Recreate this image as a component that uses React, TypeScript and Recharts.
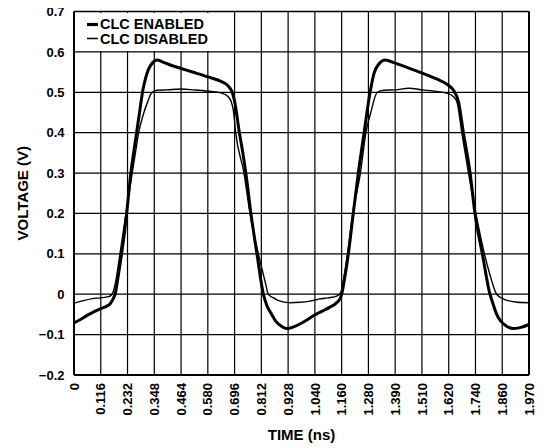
import React from 'react';
import { LineChart, Line, XAxis, YAxis, CartesianGrid, Legend, ReferenceLine } from 'recharts';

const FONT = '"Liberation Sans", Arial, Helvetica, sans-serif';

const X_MAX = 1.97;
const xTickLabels = ['0', '0.116', '0.232', '0.348', '0.464', '0.580', '0.696', '0.812', '0.928', '1.040', '1.160', '1.280', '1.390', '1.510', '1.620', '1.740', '1.860', '1.970'];
const yTicks = [-0.2, -0.1, 0, 0.1, 0.2, 0.3, 0.4, 0.5, 0.6, 0.7];

// CLC ENABLED (thick trace)
const enabledTime = [0, 0.03, 0.055, 0.085, 0.113, 0.14, 0.156, 0.17, 0.178, 0.19, 0.206, 0.218, 0.228, 0.246, 0.258, 0.271, 0.285, 0.298, 0.31, 0.322, 0.336, 0.35, 0.36, 0.38, 0.42, 0.464, 0.52, 0.58, 0.64, 0.67, 0.685, 0.696, 0.716, 0.731, 0.744, 0.766, 0.792, 0.82, 0.835, 0.856, 0.875, 0.9, 0.921, 0.95, 0.98, 1.01, 1.04, 1.075, 1.108, 1.135, 1.152, 1.159, 1.172, 1.188, 1.209, 1.231, 1.256, 1.282, 1.299, 1.32, 1.347, 1.39, 1.45, 1.51, 1.57, 1.62, 1.643, 1.665, 1.686, 1.715, 1.736, 1.768, 1.801, 1.815, 1.83, 1.85, 1.875, 1.9, 1.935, 1.97];
const enabledVolt = [-0.071, -0.062, -0.053, -0.044, -0.036, -0.03, -0.024, -0.011, 0, 0.04, 0.1, 0.15, 0.2, 0.3, 0.35, 0.4, 0.455, 0.505, 0.535, 0.556, 0.57, 0.578, 0.58, 0.576, 0.567, 0.559, 0.549, 0.538, 0.526, 0.514, 0.5, 0.476, 0.4, 0.35, 0.3, 0.2, 0.1, 0, -0.028, -0.05, -0.068, -0.08, -0.085, -0.081, -0.073, -0.063, -0.052, -0.042, -0.032, -0.022, -0.011, 0, 0.04, 0.1, 0.2, 0.3, 0.4, 0.5, 0.547, 0.57, 0.58, 0.572, 0.56, 0.547, 0.533, 0.518, 0.505, 0.476, 0.4, 0.3, 0.2, 0.1, 0, -0.025, -0.05, -0.068, -0.08, -0.085, -0.082, -0.075];

// CLC DISABLED (thin trace)
const disabledTime = [0, 0.04, 0.08, 0.113, 0.15, 0.165, 0.18, 0.199, 0.225, 0.252, 0.266, 0.28, 0.3, 0.318, 0.336, 0.358, 0.4, 0.464, 0.52, 0.58, 0.64, 0.665, 0.68, 0.69, 0.7, 0.736, 0.762, 0.798, 0.815, 0.828, 0.841, 0.86, 0.883, 0.935, 0.98, 1.022, 1.06, 1.1, 1.14, 1.155, 1.165, 1.184, 1.207, 1.24, 1.264, 1.285, 1.313, 1.34, 1.39, 1.45, 1.51, 1.57, 1.62, 1.643, 1.658, 1.679, 1.708, 1.74, 1.777, 1.8, 1.83, 1.86, 1.88, 1.92, 1.97];
const disabledVolt = [-0.022, -0.016, -0.011, -0.009, -0.006, 0, 0.03, 0.1, 0.2, 0.3, 0.35, 0.4, 0.445, 0.475, 0.498, 0.505, 0.506, 0.508, 0.506, 0.503, 0.498, 0.49, 0.478, 0.455, 0.4, 0.3, 0.2, 0.1, 0.06, 0.03, 0, -0.008, -0.015, -0.021, -0.02, -0.017, -0.012, -0.009, -0.004, 0.005, 0.03, 0.1, 0.2, 0.3, 0.4, 0.45, 0.5, 0.505, 0.506, 0.51, 0.506, 0.502, 0.497, 0.489, 0.476, 0.4, 0.3, 0.2, 0.1, 0.05, 0, -0.012, -0.016, -0.02, -0.021];

const enabledData = enabledTime.map((t, i) => ({ t, v: enabledVolt[i] }));
const disabledData = disabledTime.map((t, i) => ({ t, v: disabledVolt[i] }));
const xTicks = xTickLabels.map((_, i) => (i * X_MAX) / (xTickLabels.length - 1));

const fmtY = (v: number) => {
  if (Math.abs(v) < 1e-9) return '0';
  return v < 0 ? '\u2212' + Math.abs(v).toFixed(1) : v.toFixed(1);
};

const XTick = (props: any) => {
  const { x, y, index } = props;
  return (
    <text
      x={x}
      y={y}
      transform={`rotate(-90 ${x} ${y})`}
      textAnchor="end"
      dy="0.36em"
      fontFamily={FONT}
      fontWeight={700}
      fontSize={13}
      fill="#000"
    >
      {xTickLabels[index]}
    </text>
  );
};

const LegendBox = () => (
  <svg width={144} height={38} style={{ display: 'block', background: '#fff' }}>
    <line x1={12} x2={23} y1={11.5} y2={11.5} stroke="#000" strokeWidth={3.2} />
    <text x={25} y={16} fontFamily={FONT} fontWeight={700} fontSize={14.5} fill="#000">CLC ENABLED</text>
    <line x1={12} x2={23} y1={25.5} y2={25.5} stroke="#000" strokeWidth={1.5} />
    <text x={25} y={31} fontFamily={FONT} fontWeight={700} fontSize={14.5} fill="#000">CLC DISABLED</text>
  </svg>
);

export default function App() {
  return (
    <div style={{ marginLeft: -8, marginTop: -8, width: 556, height: 448 }}>
      <LineChart width={556} height={448} margin={{ top: 11.5, right: 27, bottom: 0, left: 0 }}>
        <CartesianGrid stroke="#000" strokeWidth={1.2} />
        <XAxis
          type="number"
          dataKey="t"
          domain={[0, X_MAX]}
          ticks={xTicks}
          interval={0}
          allowDataOverflow
          height={73}
          tickLine={false}
          tickSize={0}
          tickMargin={8}
          tick={<XTick />}
          axisLine={{ stroke: '#000', strokeWidth: 2 }}
          label={{ value: 'TIME (ns)', position: 'insideBottom', offset: 8, style: { fontFamily: FONT, fontWeight: 700, fontSize: 15, fill: '#000' } }}
        />
        <YAxis
          type="number"
          domain={[-0.2, 0.7]}
          ticks={yTicks}
          interval={0}
          allowDataOverflow
          width={74}
          tickLine={false}
          tickSize={0}
          tickMargin={9.5}
          tickFormatter={fmtY}
          tick={{ fontFamily: FONT, fontWeight: 700, fontSize: 13, fill: '#000' }}
          axisLine={{ stroke: '#000', strokeWidth: 2 }}
          label={{ value: 'VOLTAGE (V)', angle: -90, position: 'insideLeft', offset: 22.5, style: { fontFamily: FONT, fontWeight: 700, fontSize: 15, fill: '#000', textAnchor: 'middle' } }}
        />
        <ReferenceLine y={0.7} stroke="#000" strokeWidth={1.6} />
        <ReferenceLine x={X_MAX} stroke="#000" strokeWidth={2} />
        <Legend
          layout="horizontal"
          align="center"
          verticalAlign="middle"
          content={<LegendBox />}
          wrapperStyle={{ left: 75, top: 12.5, width: 144, height: 38 }}
        />
        <Line
          data={disabledData}
          dataKey="v"
          name="CLC DISABLED"
          type="monotone"
          stroke="#000"
          strokeWidth={1.4}
          dot={false}
          activeDot={false}
          isAnimationActive={false}
        />
        <Line
          data={enabledData}
          dataKey="v"
          name="CLC ENABLED"
          type="monotone"
          stroke="#000"
          strokeWidth={3}
          dot={false}
          activeDot={false}
          isAnimationActive={false}
        />
      </LineChart>
    </div>
  );
}
